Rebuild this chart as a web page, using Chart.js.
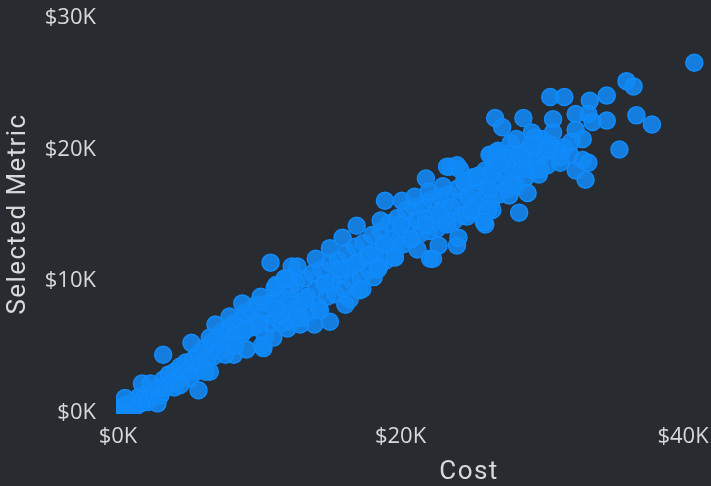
<!DOCTYPE html>
<html>
<head>
<meta charset="utf-8">
<style>
html, body { margin: 0; padding: 0; background: #282b30; }
#wrap { width: 711px; height: 486px; }
canvas { display: block; }
</style>
<script src="https://cdn.jsdelivr.net/npm/chart.js@4"></script>
</head>
<body>
<div id="wrap"><canvas id="scatter" width="711" height="486"></canvas></div>
<script>
// values in $K
const costK = [
  0.1,0.2,0.3,0.4,0.5,0.6,0.7,0.9,1.0,1.2,
  1.3,1.5,1.6,1.8,2.0,2.1,2.4,2.6,2.8,3.0,
  3.2,3.4,3.6,3.8,4.0,4.2,4.4,4.6,4.8,5.0,
  5.3,5.5,5.7,5.9,6.1,6.3,6.6,6.8,7.0,7.2,
  7.4,7.6,7.8,8.0,8.2,8.4,8.6,8.8,9.0,9.2,
  9.4,9.6,9.8,10.0,10.2,10.4,10.6,10.8,11.0,11.2,
  11.4,11.6,11.8,12.0,12.2,12.4,12.6,12.8,13.0,13.2,
  13.4,13.6,13.8,14.0,14.2,14.4,14.6,14.8,15.0,15.2,
  15.4,15.6,15.8,16.0,16.2,16.4,16.6,16.8,17.0,17.2,
  17.4,17.6,17.8,18.0,18.2,18.4,18.6,18.8,19.0,19.2,
  19.4,19.6,19.8,20.0,20.2,20.4,20.6,20.8,21.0,21.2,
  21.4,21.6,21.8,22.0,22.2,22.4,22.6,22.8,23.0,23.2,
  23.4,23.6,23.8,24.0,24.2,24.4,24.6,24.8,25.0,25.2,
  25.4,25.6,25.8,26.0,26.2,26.4,26.6,26.8,27.0,27.2,
  27.4,27.6,27.8,28.0,28.2,28.4,28.6,28.8,29.0,29.2,
  29.4,29.6,29.8,30.0,30.2,30.4,30.6,31.0,31.6,32.0,
  // lower end, edge points
  10.8,3.2,5.2,5.7,2.8,1.7,2.3,0.5,4.0,6.5,
  6.9,7.9,8.8,10.1,11.1,12.0,12.3,12.7,10.3,8.2,
  9.1,11.0,12.3,12.7,6.5,5.1,
  // middle, edge points
  14.0,15.0,15.9,16.9,18.6,18.9,20.1,21.8,23.5,23.3,
  24.0,24.2,25.1,26.3,26.8,11.2,11.8,17.1,18.1,18.5,
  19.6,21.2,22.1,22.3,22.7,24.0,24.1,24.7,26.0,25.9,26.5,
  // upper end, edge points
  40.8,36.0,36.5,34.6,33.4,30.6,31.6,32.4,33.3,34.6,
  33.6,36.7,37.8,35.5,26.7,27.2,28.7,30.8,29.3,27.8,
  32.4,32.9,32.1,30.8,29.5,31.3,31.3,32.9,33.3,32.4,
  33.1,29.8,29.0,28.4,27.7,26.4,26.9,27.8,27.3,26.4,
  25.3,26.2,25.9,
  // second pass, thickens the band
  21.0,22.0,23.0,24.5,25.5,13.9,15.0,16.4,17.3,18.4,
  19.6,11.5,10.2,7.6,4.4,6.2,12.9,14.3,16.1,25.0,
  23.3,26.3,28.6,27.9,30.4,29.9,27.0,28.2,29.3,28.6,
  22.8,21.8,20.7,20.0,18.9,17.8,16.8,15.7,14.7,13.2,
  12.2,11.1,10.0,9.0,8.3
];
const metricK = [
  0.1,0.3,0.2,0.5,0.3,0.6,0.4,0.7,0.4,0.9,
  0.5,1.2,0.7,1.0,1.4,0.8,1.6,1.2,1.9,1.3,
  2.5,1.9,2.9,2.2,3.1,2.4,3.5,2.8,3.8,3.2,
  4.0,3.1,4.5,3.6,4.9,4.0,5.3,4.3,5.7,4.7,
  6.2,5.0,6.4,5.3,6.8,5.8,7.0,6.0,7.6,6.4,
  7.8,6.5,8.2,6.9,7.4,5.8,8.3,6.8,8.6,7.2,
  9.0,6.8,8.0,6.4,9.4,7.8,9.9,8.2,7.2,10.2,
  8.8,7.6,10.6,9.4,8.0,10.9,9.8,8.8,11.4,10.0,
  9.0,11.6,10.4,9.4,12.2,11.0,10.0,12.6,11.4,10.2,
  12.9,11.8,10.8,13.5,12.2,11.2,13.8,12.8,11.6,14.4,
  13.2,12.4,14.8,13.6,12.8,15.4,14.2,13.2,15.6,14.6,
  13.6,15.8,14.8,13.8,16.2,15.0,14.0,16.4,15.4,14.4,
  16.6,15.6,14.6,17.0,16.0,15.0,17.4,16.4,15.2,16.8,
  15.8,17.6,16.2,18.4,17.2,16.0,18.8,17.6,16.6,19.0,
  18.0,17.0,19.2,18.2,17.2,19.6,18.8,17.8,20.0,19.2,
  18.4,20.4,19.4,20.8,19.8,18.8,20.4,20.0,20.2,19.6,
  // lower end, edge points
  11.4,4.4,5.3,1.7,0.7,2.2,2.2,1.1,1.9,3.1,
  6.7,7.3,8.3,8.8,9.5,10.2,11.1,11.1,4.9,4.4,
  4.8,5.7,6.9,7.2,5.7,2.6,
  // middle, edge points
  11.7,12.5,13.3,14.2,14.6,16.1,16.1,17.8,18.7,18.7,
  18.8,18.5,17.9,19.6,19.8,9.7,10.2,9.3,10.3,11.1,
  11.8,12.4,11.7,11.7,12.7,12.7,13.3,14.9,14.3,14.5,15.4,
  // upper end, edge points
  26.6,25.2,24.8,24.1,23.7,24.0,24.0,22.7,22.7,22.2,
  22.1,22.6,21.9,20.0,22.4,21.7,22.4,22.3,21.3,20.5,
  21.5,20.8,20.6,21.3,20.9,19.4,19.0,19.2,19.0,18.4,
  17.7,18.1,16.7,15.2,16.5,19.6,19.9,19.7,19.4,18.2,
  17.9,15.4,14.5,
  // second pass, thickens the band
  16.4,16.8,17.2,17.6,18.0,6.7,6.9,8.6,9.4,10.9,
  11.8,7.5,5.1,4.4,2.1,3.1,6.7,7.8,8.2,15.4,
  14.3,17.0,18.5,17.4,20.0,18.5,18.9,20.8,20.4,19.3,
  15.1,14.3,13.2,14.3,12.8,12.0,11.3,10.9,9.8,8.6,
  8.6,7.9,6.7,6.3,5.1
];
const xTicks = [0, 20, 40];
const yTicks = [0, 10, 20, 30];
const xTitle = 'Cost';
const yTitle = 'Selected Metric';

const points = costK.map((c, i) => ({ x: c, y: metricK[i] }));

// axis titles sit off-centre in the original, so they are placed by hand
const axisTitles = {
  id: 'axisTitles',
  afterDraw(chart) {
    const ctx = chart.ctx;
    ctx.save();
    ctx.fillStyle = '#d9d9d9';
    ctx.font = '400 26px Roboto';
    ctx.letterSpacing = '1.4px';
    ctx.textAlign = 'center';
    ctx.textBaseline = 'middle';
    ctx.fillText(xTitle, 469, 472);
    ctx.translate(18, 214);
    ctx.rotate(-Math.PI / 2);
    ctx.fillText(yTitle, 0, 0);
    ctx.restore();
  }
};

const ctx = document.getElementById('scatter').getContext('2d');
new Chart(ctx, {
  type: 'scatter',
  data: {
    datasets: [{
      data: points,
      backgroundColor: 'rgba(17, 137, 245, 0.88)',
      borderColor: '#118dff',
      borderWidth: 1.5,
      pointRadius: 8.5,
      pointHoverRadius: 8.5,
      clip: 0
    }]
  },
  options: {
    responsive: false,
    animation: false,
    layout: { padding: 0, autoPadding: false },
    plugins: { legend: { display: false }, tooltip: { enabled: false } },
    scales: {
      x: {
        type: 'linear',
        min: -0.14,
        max: 41.98,
        afterBuildTicks: (axis) => { axis.ticks = xTicks.map(v => ({ value: v })); },
        afterFit: (axis) => { axis.height = 72; axis.paddingLeft = 0; axis.paddingRight = 0; },
        grid: { display: false },
        border: { display: false },
        ticks: {
          color: '#d9d9d9',
          padding: 2,
          maxRotation: 0,
          autoSkip: false,
          font: { family: 'Open Sans', size: 22 },
          callback: (v) => '$' + v + 'K'
        }
      },
      y: {
        type: 'linear',
        min: -0.11,
        max: 31.37,
        afterBuildTicks: (axis) => { axis.ticks = yTicks.map(v => ({ value: v })); },
        afterFit: (axis) => { axis.width = 116; axis.paddingTop = 0; axis.paddingBottom = 0; },
        grid: { display: false },
        border: { display: false },
        ticks: {
          color: '#d9d9d9',
          padding: 12,
          autoSkip: false,
          font: { family: 'Open Sans', size: 22 },
          callback: (v) => '$' + v + 'K'
        }
      }
    }
  },
  plugins: [axisTitles]
});
</script>
</body>
</html>
